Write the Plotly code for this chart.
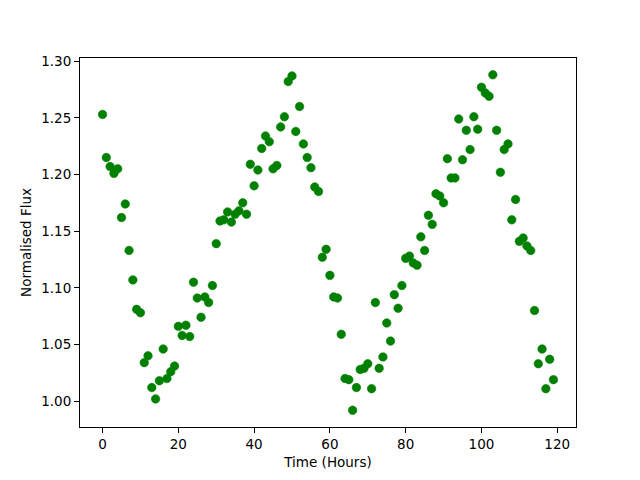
import plotly.graph_objects as go

hours = list(range(120))
flux = [
    1.253, 1.215, 1.207, 1.201, 1.205, 1.162, 1.174, 1.133, 1.107, 1.081,
    1.078, 1.034, 1.040, 1.012, 1.002, 1.018, 1.046, 1.020, 1.026, 1.031,
    1.066, 1.058, 1.067, 1.057, 1.105, 1.091, 1.074, 1.092, 1.087, 1.102,
    1.139, 1.159, 1.160, 1.167, 1.158, 1.165, 1.168, 1.175, 1.165, 1.209,
    1.190, 1.204, 1.223, 1.234, 1.229, 1.205, 1.208, 1.242, 1.251, 1.282,
    1.287, 1.238, 1.260, 1.227, 1.215, 1.206, 1.189, 1.185, 1.127, 1.134,
    1.111, 1.092, 1.091, 1.059, 1.020, 1.019, 0.992, 1.012, 1.028, 1.029,
    1.033, 1.011, 1.087, 1.029, 1.039, 1.069, 1.053, 1.094, 1.082, 1.102,
    1.126, 1.128, 1.122, 1.120, 1.145, 1.133, 1.164, 1.156, 1.183, 1.181,
    1.175, 1.214, 1.197, 1.197, 1.249, 1.213, 1.239, 1.222, 1.251, 1.240,
    1.277, 1.272, 1.269, 1.288, 1.239, 1.202, 1.222, 1.227, 1.160, 1.178,
    1.141, 1.144, 1.137, 1.133, 1.080, 1.033, 1.046, 1.011, 1.037, 1.019,
]
x_ticks = [0, 20, 40, 60, 80, 100, 120]
y_ticks = [1.00, 1.05, 1.10, 1.15, 1.20, 1.25, 1.30]

xmin, xmax = min(hours), max(hours)
ymin, ymax = min(flux), max(flux)
xpad = 0.05 * (xmax - xmin)
ypad = 0.05 * (ymax - ymin)

fig = go.Figure(go.Scatter(
    x=hours, y=flux, mode="markers",
    marker=dict(color="#008000", size=8.5, line=dict(width=0.6, color="#008000")),
))

FONT = dict(family="DejaVu Sans", size=13.5, color="black")

axis_common = dict(
    showline=True, linecolor="black", linewidth=1, mirror=True,
    ticks="outside", ticklen=5, tickwidth=1, tickcolor="black",
    showgrid=False, zeroline=False,
    tickfont=FONT,
)

fig.update_xaxes(
    range=[xmin - xpad, xmax + xpad], tickvals=x_ticks,
    ticktext=[str(v) for v in x_ticks],
    title=dict(text="Time (Hours)", font=FONT, standoff=6),
    **axis_common,
)
fig.update_yaxes(
    range=[ymin - ypad, ymax + ypad], tickvals=y_ticks,
    ticktext=[f"{v:.2f}" for v in y_ticks],
    title=dict(text="Normalised Flux", font=FONT, standoff=6),
    **axis_common,
)

fig.update_layout(
    width=640, height=480,
    margin=dict(l=80, r=64, t=58, b=53, autoexpand=False),
    paper_bgcolor="white", plot_bgcolor="white",
    showlegend=False,
    font=FONT,
)

fig.write_html(
    "out.html",
    config={"displayModeBar": False},
    post_script="document.body.style.margin='0';document.body.style.overflow='hidden';",
)
